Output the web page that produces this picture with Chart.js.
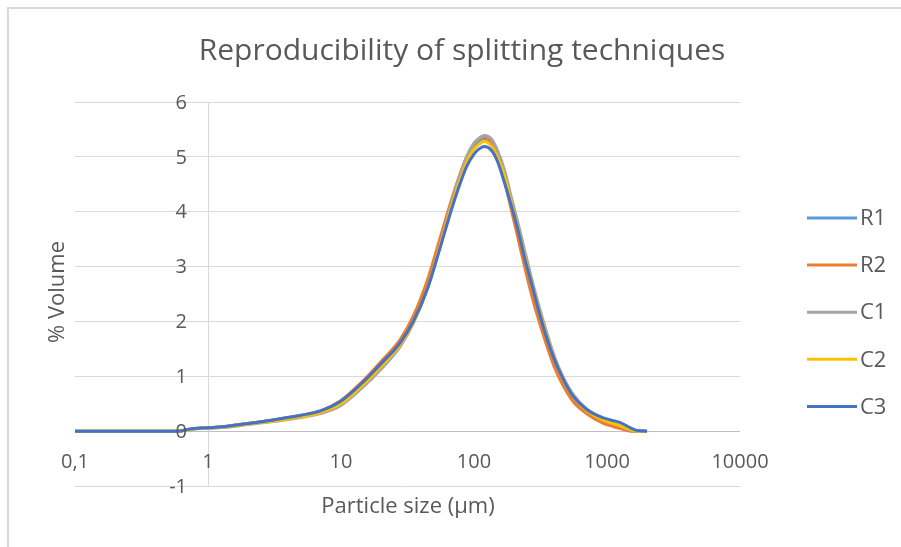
<!DOCTYPE html>
<html>
<head>
<meta charset="utf-8">
<script src="https://cdn.jsdelivr.net/npm/chart.js@4.4.1/dist/chart.umd.min.js"></script>
<style>
  body { margin: 0; background: #fff; }
  canvas { display: block; }
</style>
</head>
<body>
<canvas id="psdChart" width="901" height="547"></canvas>
<script>
// Particle sizes (µm) and % volume
const sizes = [0.1, 0.2, 0.4, 0.6, 0.7, 0.8, 1, 1.5, 2, 3, 5, 7, 10, 14, 20, 28, 35, 45, 55, 66, 77, 88, 100, 110, 120, 135, 150, 170, 190, 215, 240, 270, 300, 350, 400, 470, 560, 700, 940, 1250, 1500, 1700, 2000];

const r1 = [0, 0, 0, 0, 0.03, 0.05, 0.06, 0.1, 0.14, 0.2, 0.28, 0.36, 0.54, 0.85, 1.24, 1.65, 2.06, 2.72, 3.42, 4.08, 4.58, 4.96, 5.2, 5.3, 5.33, 5.24, 5.0, 4.58, 4.1, 3.56, 3.07, 2.57, 2.17, 1.64, 1.23, 0.86, 0.57, 0.35, 0.18, 0.08, 0.01, 0, 0];
const r2 = [0, 0, 0, 0, 0.03, 0.05, 0.06, 0.1, 0.14, 0.2, 0.29, 0.37, 0.56, 0.87, 1.27, 1.68, 2.1, 2.78, 3.48, 4.13, 4.63, 5.0, 5.24, 5.33, 5.36, 5.25, 5.0, 4.55, 4.05, 3.5, 3.0, 2.5, 2.1, 1.58, 1.18, 0.82, 0.53, 0.32, 0.14, 0.05, 0, 0, 0];
const c1 = [0, 0, 0, 0, 0.02, 0.04, 0.05, 0.08, 0.12, 0.17, 0.25, 0.32, 0.47, 0.76, 1.13, 1.55, 1.97, 2.62, 3.35, 4.05, 4.6, 5.0, 5.25, 5.35, 5.39, 5.33, 5.12, 4.75, 4.28, 3.78, 3.3, 2.8, 2.38, 1.82, 1.38, 0.98, 0.66, 0.41, 0.22, 0.1, 0.02, 0, 0];
const c2 = [0, 0, 0, 0, 0.02, 0.05, 0.06, 0.09, 0.13, 0.18, 0.26, 0.34, 0.5, 0.8, 1.18, 1.58, 1.98, 2.62, 3.33, 4.0, 4.52, 4.9, 5.14, 5.24, 5.28, 5.2, 5.0, 4.65, 4.18, 3.67, 3.2, 2.7, 2.3, 1.75, 1.33, 0.93, 0.62, 0.38, 0.2, 0.1, 0.03, 0, 0];
const c3 = [0, 0, 0, 0, 0.03, 0.05, 0.06, 0.1, 0.14, 0.2, 0.29, 0.37, 0.55, 0.85, 1.23, 1.62, 2.0, 2.62, 3.3, 3.95, 4.45, 4.82, 5.05, 5.15, 5.19, 5.12, 4.92, 4.52, 4.13, 3.65, 3.16, 2.7, 2.28, 1.72, 1.32, 0.94, 0.63, 0.4, 0.24, 0.16, 0.06, 0.01, 0];

const seriesNames = ['R1', 'R2', 'C1', 'C2', 'C3'];
const seriesValues = [r1, r2, c1, c2, c3];
const seriesColors = ['#5B9BD5', '#ED7D31', '#A5A5A5', '#FFC000', '#4472C4'];

const xTicks = [0.1, 1, 10, 100, 1000, 10000];
const xTickLabels = ['0,1', '1', '10', '100', '1000', '10000'];
const yTicks = [-1, 0, 1, 2, 3, 4, 5, 6];

const FONT = '"Open Sans", "Noto Sans", sans-serif';
const TEXT = '#595959';

// Excel style: axes cross at x = 1 and y = 0, labels sit next to them
const excelAxes = {
    id: 'excelAxes',
    beforeDraw(chart) {
        const ctx = chart.ctx;
        ctx.save();
        ctx.strokeStyle = '#d9d9d9';
        ctx.lineWidth = 2;
        ctx.beginPath();
        ctx.moveTo(8, 547);
        ctx.lineTo(8, 8);
        ctx.lineTo(901, 8);
        ctx.stroke();
        ctx.restore();
    },
    beforeDatasetsDraw(chart) {
        const ctx = chart.ctx;
        const x = chart.scales.x, y = chart.scales.y;
        const area = chart.chartArea;
        ctx.save();
        ctx.strokeStyle = '#d9d9d9';
        ctx.lineWidth = 1;
        const ax = Math.round(x.getPixelForValue(1)) + 0.5;
        ctx.beginPath();
        ctx.moveTo(ax, area.top);
        ctx.lineTo(ax, area.bottom);
        ctx.stroke();
        ctx.strokeStyle = '#bfbfbf';
        const ay = Math.round(y.getPixelForValue(0)) + 0.5;
        ctx.beginPath();
        ctx.moveTo(area.left, ay);
        ctx.lineTo(area.right, ay);
        ctx.stroke();
        ctx.restore();
    },
    afterDraw(chart) {
        const ctx = chart.ctx;
        const x = chart.scales.x, y = chart.scales.y;
        const area = chart.chartArea;
        ctx.save();
        ctx.fillStyle = TEXT;

        // y tick labels left of the x = 1 axis
        ctx.font = '20px ' + FONT;
        ctx.textAlign = 'right';
        ctx.textBaseline = 'middle';
        const ax = x.getPixelForValue(1);
        yTicks.forEach(v => ctx.fillText(String(v), ax - 21, y.getPixelForValue(v) + 1));

        // x tick labels below the y = 0 axis
        ctx.textAlign = 'center';
        const ay = y.getPixelForValue(0);
        xTicks.forEach((v, i) => ctx.fillText(xTickLabels[i], x.getPixelForValue(v), ay + 31));

        // title
        ctx.font = '30px ' + FONT;
        ctx.fillText('Reproducibility of splitting techniques', 462, 51);

        // axis titles
        ctx.font = '22px ' + FONT;
        ctx.fillText('Particle size (µm)', 408, 507);
        ctx.save();
        ctx.translate(58, 292);
        ctx.rotate(-Math.PI / 2);
        ctx.fillText('% Volume', 0, 0);
        ctx.restore();

        // legend
        ctx.textAlign = 'left';
        ctx.font = '22px ' + FONT;
        chart.data.datasets.forEach((ds, i) => {
            const ly = 218 + i * 47.1;
            ctx.strokeStyle = ds.borderColor;
            ctx.lineWidth = 3;
            ctx.beginPath();
            ctx.moveTo(807, ly);
            ctx.lineTo(857, ly);
            ctx.stroke();
            ctx.fillText(ds.label, 860, ly + 1);
        });
        ctx.restore();
    }
};

const ctx = document.getElementById('psdChart').getContext('2d');
new Chart(ctx, {
    type: 'line',
    data: {
        datasets: seriesNames.map((name, i) => ({
            label: name,
            data: sizes.map((s, k) => ({ x: s, y: seriesValues[i][k] })),
            borderColor: seriesColors[i],
            backgroundColor: seriesColors[i],
            borderWidth: 3,
            pointRadius: 0,
            cubicInterpolationMode: 'monotone',
            order: seriesNames.length - i
        }))
    },
    options: {
        responsive: false,
        animation: false,
        layout: { padding: { left: 75, right: 161, top: 102, bottom: 61 } },
        plugins: {
            legend: { display: false },
            title: { display: false },
            tooltip: { enabled: false }
        },
        scales: {
            x: {
                type: 'logarithmic',
                min: 0.1,
                max: 10000,
                display: false
            },
            y: {
                type: 'linear',
                min: -1,
                max: 6,
                ticks: { display: false, stepSize: 1 },
                border: { display: false },
                grid: { color: '#d9d9d9', lineWidth: 1, drawTicks: false }
            }
        }
    },
    plugins: [excelAxes]
});
</script>
</body>
</html>
